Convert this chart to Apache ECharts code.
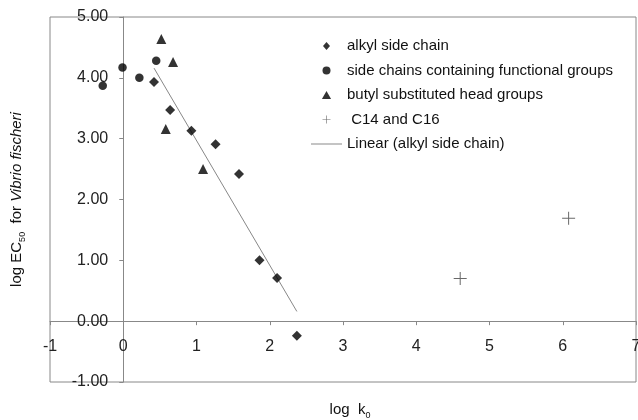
<!DOCTYPE html>
<html>
<head>
<meta charset="utf-8">
<script src="https://cdn.jsdelivr.net/npm/echarts@6/dist/echarts.min.js"></script>
<style>html,body{margin:0;padding:0;background:#fff}#c{width:638px;height:420px}</style>
</head>
<body>
<div id="c"></div>
<script>
// ---- data ----
const alkylX = [0.42, 0.64, 0.93, 1.26, 1.58, 1.86, 2.10, 2.37];
const alkylY = [3.93, 3.47, 3.13, 2.91, 2.42, 1.00, 0.71, -0.24];
const functionalX = [-0.28, -0.01, 0.22, 0.45];
const functionalY = [3.87, 4.17, 4.00, 4.28];
const butylX = [0.52, 0.68, 0.58, 1.09];
const butylY = [4.64, 4.26, 3.16, 2.50];
const c14c16X = [4.60, 6.08];
const c14c16Y = [0.70, 1.69];
const trendX = [0.42, 2.37];
const trendY = [4.16, 0.16];
const seriesNames = ['alkyl side chain', 'side chains containing functional groups', 'butyl substituted head groups', ' C14 and C16', 'Linear (alkyl side chain)'];

function pairs(xs, ys) { return xs.map((x, i) => [x, ys[i]]); }

const FONT = 'Liberation Sans, Arial, sans-serif';
const plusPath = 'path://M6,0L7,0L7,13L6,13Z M0,6L13,6L13,7L0,7Z';
const linePath = 'path://M0,0L31,0L31,1L0,1Z';
const diamondIcon = 'path://M3.5,0L7,4L3.5,8L0,4Z';
const triangleIcon = 'path://M4,0L8,7L0,7Z';

// layout: grid box and where the zero lines fall inside it
const G = { left: 50, top: 17, right: 2, bottom: 38 };
const W = 638, H = 420;
const xMin = -1, xMax = 7, yMin = -1, yMax = 5;
const gw = W - G.left - G.right, gh = H - G.top - G.bottom;
const yAxisOffset = -gw * (0 - xMin) / (xMax - xMin);   // move y axis right onto x = 0
const xAxisOffset = -gh * (0 - yMin) / (yMax - yMin);   // move x axis up onto y = 0

const chart = echarts.init(document.getElementById('c'));
chart.setOption({
  backgroundColor: '#fff',
  animation: false,
  textStyle: { fontFamily: FONT },
  grid: { left: G.left, top: G.top, right: G.right, bottom: G.bottom, containLabel: false, outerBoundsMode: 'none', show: true, borderColor: '#888', borderWidth: 1, backgroundColor: 'transparent' },
  legend: {
    orient: 'vertical', left: 306, top: 33,
    itemWidth: 31, itemHeight: 8, itemGap: 8.5,
    symbolKeepAspect: true,
    textStyle: { fontFamily: FONT, fontSize: 15, color: '#111', lineHeight: 16 },
    data: [
      { name: seriesNames[0], icon: diamondIcon },
      { name: seriesNames[1], icon: 'circle' },
      { name: seriesNames[2], icon: triangleIcon },
      { name: seriesNames[3], icon: plusPath, itemStyle: { color: '#444' } },
      { name: seriesNames[4], icon: linePath, itemStyle: { color: '#888' } }
    ]
  },
  xAxis: {
    type: 'value', min: xMin, max: xMax, interval: 1,
    position: 'bottom', offset: xAxisOffset,
    axisLine: { onZero: false, lineStyle: { color: '#888', width: 1 } },
    axisTick: { show: true, length: 4, lineStyle: { color: '#888' } },
    axisLabel: { margin: 17, fontSize: 16, color: '#222', fontFamily: FONT, showMinLabel: true, showMaxLabel: true },
    splitLine: { show: false },
    name: '{a|log  k}{s|0}',
    nameLocation: 'middle', nameGap: 79,
    nameTextStyle: {
      padding: [0, 0, 0, 14],
      rich: {
        a: { fontSize: 15, color: '#111', fontFamily: FONT, lineHeight: 20, verticalAlign: 'middle' },
        s: { fontSize: 9, color: '#111', fontFamily: FONT, lineHeight: 10, verticalAlign: 'bottom' }
      }
    }
  },
  yAxis: {
    type: 'value', min: yMin, max: yMax, interval: 1,
    position: 'left', offset: yAxisOffset,
    axisLine: { onZero: false, lineStyle: { color: '#888', width: 1 } },
    axisTick: { show: true, length: 4, lineStyle: { color: '#888' } },
    axisLabel: { margin: 15, fontSize: 16, color: '#222', fontFamily: FONT, formatter: v => v.toFixed(2) },
    splitLine: { show: false },
    name: '{a|log EC}{s|50}{a|  for }{i|Vibrio fischeri}',
    nameLocation: 'middle', nameRotate: 90, nameGap: 96,
    nameTextStyle: {
      rich: {
        a: { fontSize: 15, color: '#111', fontFamily: FONT, lineHeight: 20, verticalAlign: 'middle' },
        s: { fontSize: 9, color: '#111', fontFamily: FONT, lineHeight: 10, verticalAlign: 'bottom' },
        i: { fontSize: 15, color: '#111', fontFamily: FONT, fontStyle: 'italic', lineHeight: 20, verticalAlign: 'middle' }
      }
    }
  },
  series: [
    { name: seriesNames[0], type: 'scatter', symbol: 'diamond', symbolSize: 10, itemStyle: { color: '#000' }, data: pairs(alkylX, alkylY), z: 3 },
    { name: seriesNames[1], type: 'scatter', symbol: 'circle', symbolSize: 8.5, itemStyle: { color: '#000' }, data: pairs(functionalX, functionalY), z: 3 },
    { name: seriesNames[2], type: 'scatter', symbol: 'triangle', symbolSize: 10, itemStyle: { color: '#000' }, data: pairs(butylX, butylY), z: 3 },
    { name: seriesNames[3], type: 'scatter', symbol: plusPath, symbolSize: 13, itemStyle: { color: '#444' }, data: pairs(c14c16X, c14c16Y), z: 3 },
    { name: seriesNames[4], type: 'line', symbol: 'none', showSymbol: false, lineStyle: { color: '#888', width: 1 }, itemStyle: { color: '#888' }, data: pairs(trendX, trendY), z: 2 }
  ]
});
</script>
</body>
</html>
